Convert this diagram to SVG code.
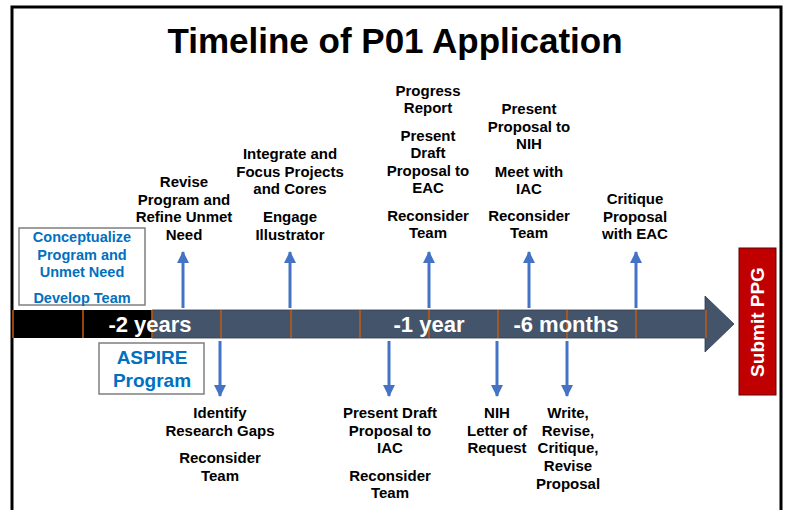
<svg xmlns="http://www.w3.org/2000/svg" width="786" height="510" viewBox="0 0 786 510">
<defs>
<style>
.t{font-family:"Liberation Sans",Arial,sans-serif;font-weight:bold;font-size:15px;fill:#000;text-anchor:middle}
.b{font-family:"Liberation Sans",Arial,sans-serif;font-weight:bold;fill:#0070C0;text-anchor:middle}
.w{font-family:"Liberation Sans",Arial,sans-serif;font-weight:bold;fill:#fff;text-anchor:middle}
.tick{stroke:#C55A11;stroke-width:1.5}
.arr{stroke:#4472C4;stroke-width:3;fill:none;marker-end:url(#ah)}
</style>
<marker id="ah" markerUnits="userSpaceOnUse" markerWidth="12" markerHeight="14" viewBox="0 0 12 14" refX="11" refY="7" orient="auto">
<path d="M0,1 L12,7 L0,13 Z" fill="#4472C4"/>
</marker>
</defs>
<rect width="786" height="510" fill="#fff"/>
<path d="M12,512 V7 H781 V512" fill="none" stroke="#000" stroke-width="3"/>
<text x="395" y="53" font-family="'Liberation Sans',Arial,sans-serif" font-weight="bold" font-size="35" text-anchor="middle" fill="#000">Timeline of P01 Application</text>

<g id="timeline">
<rect x="13" y="310" width="139" height="28" fill="#000"/>
<path d="M152,310 H705 V296 L734,324 L705,352 V338 H152 Z" fill="#44546A" stroke="#2F3B4C" stroke-width="0.8"/>
<g class="tick">
<line x1="13" y1="310" x2="13" y2="338"/>
<line x1="83" y1="310" x2="83" y2="338"/>
<line x1="152" y1="310" x2="152" y2="338"/>
<line x1="221" y1="310" x2="221" y2="338"/>
<line x1="291" y1="310" x2="291" y2="338"/>
<line x1="360" y1="310" x2="360" y2="338"/>
<line x1="429" y1="310" x2="429" y2="338"/>
<line x1="498" y1="310" x2="498" y2="338"/>
<line x1="567" y1="310" x2="567" y2="338"/>
<line x1="636" y1="310" x2="636" y2="338"/>
<line x1="706" y1="310" x2="706" y2="338"/>
</g>
<text class="w" x="150" y="332" font-size="22">-2 years</text>
<text class="w" x="429" y="332" font-size="22">-1 year</text>
<text class="w" x="566" y="332" font-size="22">-6 months</text>
</g>

<g id="connectors">
<line class="arr" x1="183" y1="308" x2="183" y2="252"/>
<line class="arr" x1="290" y1="308" x2="290" y2="252"/>
<line class="arr" x1="429" y1="308" x2="429" y2="252"/>
<line class="arr" x1="529" y1="308" x2="529" y2="252"/>
<line class="arr" x1="636" y1="308" x2="636" y2="252"/>
<line class="arr" x1="220" y1="341" x2="220" y2="396"/>
<line class="arr" x1="389" y1="341" x2="389" y2="396"/>
<line class="arr" x1="497" y1="341" x2="497" y2="396"/>
<line class="arr" x1="567" y1="341" x2="567" y2="396"/>
</g>

<g id="conceptualize">
<rect x="19" y="228" width="126" height="77" fill="#fff" stroke="#7F7F7F" stroke-width="1.5"/>
<text class="b" x="82" y="242" font-size="14.5">Conceptualize</text>
<text class="b" x="82" y="260" font-size="14.5">Program and</text>
<text class="b" x="82" y="277" font-size="14.5">Unmet Need</text>
<text class="b" x="82" y="303" font-size="14.5">Develop Team</text>
</g>

<g id="aspire">
<rect x="99" y="343" width="105" height="51" fill="#fff" stroke="#7F7F7F" stroke-width="1.5"/>
<text class="b" x="152" y="364" font-size="19">ASPIRE</text>
<text class="b" x="152" y="387" font-size="19">Program</text>
</g>

<g id="submit">
<rect x="739" y="248" width="37" height="147" fill="#C00000" stroke="#600000" stroke-width="1"/>
<text class="w" font-size="19" transform="translate(764,322) rotate(-90)">Submit PPG</text>
</g>

<g id="n1">
<text class="t" x="184" y="187">Revise</text>
<text class="t" x="184" y="205">Program and</text>
<text class="t" x="184" y="222">Refine Unmet</text>
<text class="t" x="184" y="240">Need</text>
</g>
<g id="n2">
<text class="t" x="290" y="159">Integrate and</text>
<text class="t" x="290" y="177">Focus Projects</text>
<text class="t" x="290" y="194">and Cores</text>
<text class="t" x="290" y="222">Engage</text>
<text class="t" x="290" y="240">Illustrator</text>
</g>
<g id="n3">
<text class="t" x="428" y="96">Progress</text>
<text class="t" x="428" y="113">Report</text>
<text class="t" x="428" y="141">Present</text>
<text class="t" x="428" y="158">Draft</text>
<text class="t" x="428" y="176">Proposal to</text>
<text class="t" x="428" y="193">EAC</text>
<text class="t" x="428" y="221">Reconsider</text>
<text class="t" x="428" y="238">Team</text>
</g>
<g id="n4">
<text class="t" x="529" y="114">Present</text>
<text class="t" x="529" y="132">Proposal to</text>
<text class="t" x="529" y="149">NIH</text>
<text class="t" x="529" y="177">Meet with</text>
<text class="t" x="529" y="194">IAC</text>
<text class="t" x="529" y="221">Reconsider</text>
<text class="t" x="529" y="238">Team</text>
</g>
<g id="n5">
<text class="t" x="635" y="204">Critique</text>
<text class="t" x="635" y="222">Proposal</text>
<text class="t" x="635" y="239">with EAC</text>
</g>
<g id="n6">
<text class="t" x="220" y="418">Identify</text>
<text class="t" x="220" y="436">Research Gaps</text>
<text class="t" x="220" y="463">Reconsider</text>
<text class="t" x="220" y="481">Team</text>
</g>
<g id="n7">
<text class="t" x="390" y="418">Present Draft</text>
<text class="t" x="390" y="436">Proposal to</text>
<text class="t" x="390" y="453">IAC</text>
<text class="t" x="390" y="481">Reconsider</text>
<text class="t" x="390" y="498">Team</text>
</g>
<g id="n8">
<text class="t" x="497" y="418">NIH</text>
<text class="t" x="497" y="436">Letter of</text>
<text class="t" x="497" y="453">Request</text>
</g>
<g id="n9">
<text class="t" x="568" y="418">Write,</text>
<text class="t" x="568" y="436">Revise,</text>
<text class="t" x="568" y="453">Critique,</text>
<text class="t" x="568" y="471">Revise</text>
<text class="t" x="568" y="489">Proposal</text>
</g>
</svg>
